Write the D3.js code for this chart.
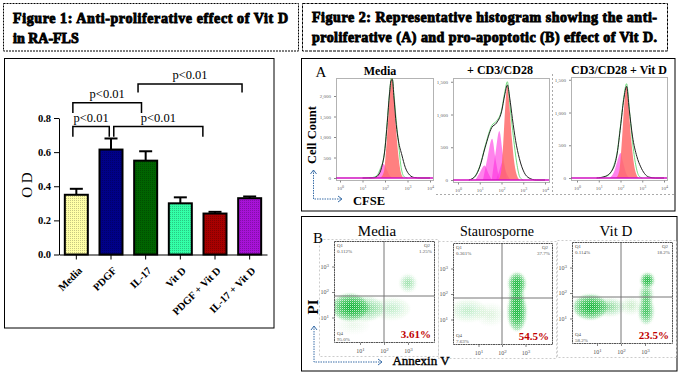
<!DOCTYPE html>
<html>
<head>
<meta charset="utf-8">
<script src="https://cdn.jsdelivr.net/npm/d3@7"></script>
<style>
  html, body { margin: 0; padding: 0; background: #fff; }
  svg { display: block; }
  text { font-family: "Liberation Serif", serif; fill: #000; }
</style>
</head>
<body>
<div id="chart"></div>
<script>
// Figure 1 bars
const categories = ["Media", "PDGF", "IL-17", "Vit D", "PDGF + Vit D", "IL-17 + Vit D"];
const odValues = [0.35, 0.615, 0.55, 0.30, 0.24, 0.33];
const odErrors = [0.035, 0.065, 0.055, 0.035, 0.01, 0.01];
const barColors = ["#ffffa6", "#000088", "#006400", "#33ffa8", "#a80000", "#a812d8"];
const odTicks = [0, 0.2, 0.4, 0.6, 0.8];

// significance brackets, in category index / OD units
const sigLabels = ["p<0.01", "p<0.01", "p<0.01", "p<0.01"];
const sigFrom = [1.78, -0.1, -0.1, 1.08];
const sigTo = [4.78, 1.88, 0.95, 3.65];
const sigLevel = [1.0, 0.89, 0.75, 0.75];
const sigDrop = [0.95, 0.83, 0.69, 0.69];

// Figure 2A histograms: [log10 CFSE, cell count]
const histTitles = ["Media", "+ CD3/CD28", "CD3/CD28 + Vit D"];
const histBlack = [
  [[1.0,0],[1.5,5],[1.7,70],[1.85,260],[2.0,720],[2.1,1350],[2.2,2050],[2.27,2380],[2.33,2400],[2.4,1950],[2.5,1300],[2.6,900],[2.75,560],[2.9,260],[3.1,70],[3.3,12],[3.6,0],[4.0,0]],
  [[0.5,0],[0.8,60],[1.0,200],[1.25,500],[1.55,800],[1.77,870],[2.0,1040],[2.15,1300],[2.27,1450],[2.38,1250],[2.5,940],[2.65,600],[2.82,330],[3.05,110],[3.27,30],[3.6,0],[4.0,0]],
  [[0.9,0],[1.3,25],[1.67,150],[1.85,380],[2.0,780],[2.15,1200],[2.28,1400],[2.4,1050],[2.55,640],[2.75,330],[2.93,170],[3.1,70],[3.3,15],[3.6,0],[4.0,0]]
];
const histGreen = [
  [[1.3,0],[1.6,40],[1.8,240],[1.95,520],[2.1,1380],[2.2,2080],[2.3,2500],[2.4,2020],[2.5,1400],[2.6,850],[2.7,320],[2.85,30],[3.0,0]],
  [[0.6,0],[0.8,70],[1.0,210],[1.25,520],[1.55,830],[1.77,900],[2.0,1060],[2.15,1340],[2.27,1500],[2.4,1100],[2.55,650],[2.7,260],[2.85,40],[3.0,0]],
  [[1.0,0],[1.4,35],[1.67,170],[1.85,400],[2.0,800],[2.15,1230],[2.28,1440],[2.42,1000],[2.55,560],[2.7,200],[2.85,30],[3.0,0]]
];
const histRed = [
  [[1.8,0],[1.95,150],[2.05,700],[2.15,1500],[2.25,2300],[2.3,2450],[2.35,2300],[2.45,1500],[2.55,800],[2.65,300],[2.75,60],[2.85,0]],
  [[1.85,0],[1.98,120],[2.08,560],[2.18,1150],[2.27,1440],[2.36,1150],[2.48,620],[2.6,240],[2.72,60],[2.85,0]],
  [[1.8,0],[1.95,120],[2.05,500],[2.17,1100],[2.28,1400],[2.38,1050],[2.5,560],[2.62,210],[2.75,40],[2.85,0]]
];
const histMagenta = [
  [ [[1.55,0],[1.7,80],[1.8,200],[1.9,350],[2.0,300],[2.1,180],[2.2,70],[2.35,0]] ],
  [ [[0.8,0],[1.0,110],[1.22,220],[1.4,100],[1.55,0]],
    [[1.15,0],[1.35,330],[1.57,630],[1.72,330],[1.9,0]],
    [[1.55,0],[1.72,400],[1.9,750],[2.05,420],[2.25,0]],
    [[1.75,0],[1.9,140],[2.05,270],[2.2,130],[2.4,0]] ],
  [ [[1.5,0],[1.7,90],[1.85,250],[2.0,380],[2.12,240],[2.25,80],[2.4,0]] ]
];
const histYMax = [2500, 1550, 1530];
const histTicks = [[0, 500, 1000, 1500, 2000], [0, 500, 1000, 1500], [0, 500, 1000, 1500]];
const decades = [0, 1, 2, 3, 4];

// Figure 2B dot plots: clouds as [log x, log y, x radius, y radius, strength]
const dotTitles = ["Media", "Staurosporne", "Vit D"];
const dotPercents = ["3.61%", "54.5%", "23.5%"];
const gateQ1 = ["0.112%", "0.361%", "0.114%"];
const gateQ2 = ["1.25%", "37.7%", "18.2%"];
const gateQ4 = ["95.0%", "7.63%", "58.2%"];
const dotClouds = [
  [[0.58,1.4,0.85,0.6,1],[1.2,1.35,0.9,0.55,0.4],[2.3,1.35,0.9,0.5,0.16],[3.0,2.35,0.4,0.4,0.28],[0.7,0.7,0.8,0.4,0.06]],
  [[2.64,2.4,0.42,0.5,1],[2.64,1.3,0.45,0.85,1],[2.62,1.9,0.38,0.5,0.6],[0.55,1.35,0.9,0.5,0.16],[1.5,1.2,0.7,0.5,0.08]],
  [[0.72,1.45,0.8,0.55,1],[1.5,1.45,0.75,0.4,0.32],[3.1,2.5,0.32,0.32,1],[3.05,1.9,0.32,0.55,0.5],[3.05,1.3,0.36,0.6,0.7],[2.4,1.5,0.5,0.4,0.14]]
];
const ringSizes = [0.85, 0.62, 0.42, 0.24];

const width = 678, height = 372;
const svg = d3.select("#chart").append("svg")
  .attr("width", width)
  .attr("height", height);

const defs = svg.append("defs");

// dither on the bars
const dither = defs.append("pattern")
  .attr("id", "dither").attr("width", 2).attr("height", 2)
  .attr("patternUnits", "userSpaceOnUse");
dither.append("rect").attr("width", 1).attr("height", 1).attr("fill", "#000").attr("opacity", 0.22);

// white holes over the green clouds
const grain = defs.append("pattern")
  .attr("id", "grain").attr("width", 2).attr("height", 2)
  .attr("patternUnits", "userSpaceOnUse");
grain.append("rect").attr("width", 1).attr("height", 1).attr("fill", "#fff").attr("opacity", 0.7);
grain.append("rect").attr("x", 1).attr("y", 1).attr("width", 1).attr("height", 1).attr("fill", "#fff").attr("opacity", 0.15);

defs.append("filter").attr("id", "soft")
  .append("feGaussianBlur").attr("stdDeviation", 1.2);

function box(x0, y0, x1, y1, dash, color, sw) {
  svg.append("rect")
    .attr("x", x0).attr("y", y0)
    .attr("width", x1 - x0).attr("height", y1 - y0)
    .attr("fill", "none")
    .attr("stroke", color || "#000")
    .attr("stroke-width", sw || 1)
    .attr("stroke-dasharray", dash || null);
}

function label(x, y, str, size, opts) {
  opts = opts || {};
  const t = svg.append("text")
    .attr("x", x).attr("y", y)
    .attr("text-anchor", opts.anchor || "middle")
    .style("font-size", size + "px")
    .style("font-weight", opts.bold ? "bold" : "normal")
    .style("fill", opts.color || "#000")
    .text(str);
  if (opts.heavy) t.style("stroke", "#000").style("stroke-width", opts.heavy);
  if (opts.rotate) t.attr("transform", `rotate(${opts.rotate},${x},${y})`);
  return t;
}

// --- title boxes ---
box(3.5, 3.5, 298.5, 51, "2,1");
box(302.5, 3.5, 667.5, 51, "3,1");
label(13, 23, "Figure 1: Anti-proliferative effect of Vit D", 14, { anchor: "start", bold: true, heavy: 0.9 }).attr("textLength", 275);
label(13, 43, "in RA-FLS", 14, { anchor: "start", bold: true, heavy: 0.9 });
label(312, 22, "Figure 2: Representative histogram showing the anti-", 14, { anchor: "start", bold: true, heavy: 0.9 }).attr("textLength", 345);
label(312, 42, "proliferative (A) and pro-apoptotic (B) effect of Vit D.", 14, { anchor: "start", bold: true, heavy: 0.9 }).attr("textLength", 345);

// --- Figure 1 ---
box(4.5, 58.5, 274, 328);
box(301.5, 58.5, 675, 211);
box(301.5, 216.5, 677, 371);

const x = d3.scaleBand().domain(categories).range([59, 267]);
const xIdx = d3.scaleLinear().domain([0, 5]).range([x(categories[0]) + x.bandwidth() / 2, x(categories[5]) + x.bandwidth() / 2]);
const y = d3.scaleLinear().domain([0, 0.8]).range([254.5, 118]);
const barW = 23;

const gx = svg.append("g")
  .attr("transform", "translate(0,254.5)")
  .call(d3.axisBottom(x).tickSize(5).tickSizeOuter(0));
gx.selectAll("path,line").attr("stroke", "#000").attr("stroke-width", 1);
gx.selectAll("text")
  .attr("transform", "rotate(-45)")
  .attr("dx", "-0.7em").attr("dy", "0.8em")
  .style("text-anchor", "end")
  .style("font-size", "10.5px")
  .style("font-weight", "bold");

const gy = svg.append("g")
  .attr("transform", "translate(59,0)")
  .call(d3.axisLeft(y).tickValues(odTicks).tickFormat(d3.format(".1f")).tickSize(5).tickSizeOuter(0));
gy.selectAll("path,line").attr("stroke", "#000").attr("stroke-width", 1);
gy.selectAll("text").style("font-size", "10.5px").style("font-weight", "bold");

label(32, 185, "O D", 15, { rotate: -90 });

const bars = categories.map((c, i) => ({ c, v: odValues[i], e: odErrors[i], col: barColors[i] }));
const cx = d => x(d.c) + x.bandwidth() / 2;

svg.selectAll("line.err").data(bars).enter().append("line")
  .attr("class", "err")
  .attr("x1", cx).attr("x2", cx)
  .attr("y1", d => y(d.v)).attr("y2", d => y(d.v + d.e))
  .attr("stroke", "#000").attr("stroke-width", 2);
svg.selectAll("line.cap").data(bars).enter().append("line")
  .attr("class", "cap")
  .attr("x1", d => cx(d) - 6.5).attr("x2", d => cx(d) + 6.5)
  .attr("y1", d => y(d.v + d.e)).attr("y2", d => y(d.v + d.e))
  .attr("stroke", "#000").attr("stroke-width", 2);

svg.selectAll("rect.bar").data(bars).enter().append("rect")
  .attr("class", "bar")
  .attr("x", d => cx(d) - barW / 2)
  .attr("y", d => y(d.v))
  .attr("width", barW)
  .attr("height", d => y(0) - y(d.v))
  .attr("fill", d => d.col)
  .attr("stroke", "#000").attr("stroke-width", 2);
svg.selectAll("rect.dith").data(bars).enter().append("rect")
  .attr("class", "dith")
  .attr("x", d => cx(d) - barW / 2 + 1)
  .attr("y", d => y(d.v) + 1)
  .attr("width", barW - 2)
  .attr("height", d => y(0) - y(d.v) - 2)
  .attr("fill", "url(#dither)");

sigLabels.forEach((s, i) => {
  const a = xIdx(sigFrom[i]), b = xIdx(sigTo[i]);
  svg.append("path")
    .attr("d", d3.line()([[a, y(sigDrop[i])], [a, y(sigLevel[i])], [b, y(sigLevel[i])], [b, y(sigDrop[i])]]))
    .attr("fill", "none").attr("stroke", "#000").attr("stroke-width", 1.5);
  label((a + b) / 2, y(sigLevel[i]) - 4.5, s, 12.5);
});

// --- Figure 2A ---
// plot frame and the place of 10^0 .. 10^4 on screen
const histFrames = [[336, 433, 340, 430, 78, 178], [453, 549, 458, 545, 78, 180], [571, 667, 577, 664, 77, 178]];

function superTicks(g, size) {
  g.selectAll("text").each(function(d) {
    const t = d3.select(this).text("10");
    t.append("tspan").attr("dy", "-0.4em").style("font-size", (size - 1) + "px").text(d);
  });
}

svg.append("line").attr("x1", 436).attr("x2", 675).attr("y1", 194.5).attr("y2", 194.5)
  .attr("stroke", "#aaa").attr("stroke-dasharray", "2,2");
svg.append("line").attr("x1", 552.5).attr("x2", 552.5).attr("y1", 74).attr("y2", 194)
  .attr("stroke", "#aaa").attr("stroke-dasharray", "2,2");

histTitles.forEach((title, i) => {
  const f = histFrames[i];
  const hx = d3.scaleLinear().domain([0, 4]).range([f[2], f[3]]);
  const hy = d3.scaleLinear().domain([0, histYMax[i]])
    .range([f[5], i === 0 ? 178 - histYMax[i] * 0.041 : f[5] - histYMax[i] * 0.0655]);

  const clipId = "hclip" + i;
  defs.append("clipPath").attr("id", clipId).append("rect")
    .attr("x", f[0]).attr("y", f[4]).attr("width", f[1] - f[0]).attr("height", f[5] - f[4] + 2);

  const plot = svg.append("g").attr("clip-path", `url(#${clipId})`);
  const area = d3.area().x(d => hx(d[0])).y0(hy(0)).y1(d => hy(d[1])).curve(d3.curveMonotoneX);
  const line = d3.line().x(d => hx(d[0])).y(d => hy(d[1])).curve(d3.curveMonotoneX);

  histMagenta[i].forEach(m => {
    plot.append("path").attr("d", area(m)).attr("fill", "#ff30e0").attr("fill-opacity", 0.6);
  });
  plot.append("path").attr("d", area(histRed[i])).attr("fill", "#ff6a6a").attr("fill-opacity", 0.85);
  plot.append("path").attr("d", line(histGreen[i])).attr("fill", "none").attr("stroke", "#50d060").attr("stroke-width", 0.8);
  plot.append("path").attr("d", line(histBlack[i])).attr("fill", "none").attr("stroke", "#222").attr("stroke-width", 1);
  plot.append("line").attr("x1", f[0]).attr("x2", f[1]).attr("y1", hy(0)).attr("y2", hy(0))
    .attr("stroke", "#d010c0").attr("stroke-width", 1.5);

  box(f[0] + 0.5, f[4] + 0.5, f[1] + 0.5, f[5] + 2.5, "1,1", "#666");

  const ax = svg.append("g").attr("transform", `translate(0,${f[5] + 2.5})`)
    .call(d3.axisBottom(hx).tickValues(decades).tickSize(2).tickSizeOuter(0));
  ax.select(".domain").remove();
  ax.selectAll("line").attr("stroke", "#888");
  ax.selectAll("text").style("font-size", "5px").style("fill", "#666").attr("dy", "0.9em");
  superTicks(ax, 5);

  const ay = svg.append("g").attr("transform", `translate(${f[0]},0)`)
    .call(d3.axisLeft(hy).tickValues(histTicks[i]).tickSize(2).tickSizeOuter(0));
  ay.select(".domain").remove();
  ay.selectAll("line").attr("stroke", "#888");
  ay.selectAll("text").style("font-size", "5px").style("fill", "#666");
});

label(380, 75, histTitles[0], 12, { bold: true });
label(500, 74, histTitles[1], 12, { bold: true });
label(619, 74, histTitles[2], 12, { bold: true });
label(321, 77, "A", 15);
label(316, 135, "Cell Count", 12.5, { bold: true, rotate: -90 });
label(369, 205, "CFSE", 12.5, { bold: true });

function arrows(ox, oy, tx, ty) {
  const blue = "#3a6ea8";
  svg.append("path")
    .attr("d", d3.line()([[ox, ty], [ox, oy], [tx, oy]]))
    .attr("fill", "none").attr("stroke", blue).attr("stroke-width", 1).attr("stroke-dasharray", "1.5,1");
  svg.append("path")
    .attr("d", d3.line()([[ox - 3, ty + 4], [ox, ty], [ox + 3, ty + 4]]))
    .attr("fill", "none").attr("stroke", blue);
  svg.append("path")
    .attr("d", d3.line()([[tx - 4, oy - 3], [tx, oy], [tx - 4, oy + 3]]))
    .attr("fill", "none").attr("stroke", blue);
}
arrows(313.5, 199, 342, 170);

// --- Figure 2B ---
// plot frame, 10^0 x, x decade, 10^0 y, y decade
const dotFrames = [
  [334, 434, 241, 342, 336, 24, 343, 25.5],
  [453, 552, 243, 344, 455, 23.5, 345, 25.5],
  [572, 672, 242, 343, 573, 24, 344, 25.5]
];

dotTitles.forEach((title, i) => {
  const f = dotFrames[i];
  const dx = d3.scaleLinear().domain([0, 1]).range([f[4], f[4] + f[5]]);
  const dy = d3.scaleLinear().domain([0, 1]).range([f[6], f[6] - f[7]]);

  const clipId = "dclip" + i;
  defs.append("clipPath").attr("id", clipId).append("rect")
    .attr("x", f[0]).attr("y", f[2]).attr("width", f[1] - f[0]).attr("height", f[3] - f[2]);
  const plot = svg.append("g").attr("clip-path", `url(#${clipId})`);

  const blobs = plot.append("g").attr("filter", "url(#soft)");
  dotClouds[i].forEach(c => {
    ringSizes.forEach(r => {
      blobs.append("ellipse")
        .attr("cx", dx(c[0]))
        .attr("cy", dy(c[1]))
        .attr("rx", (dx(c[2]) - dx(0)) * r)
        .attr("ry", (dy(0) - dy(c[3])) * r)
        .attr("fill", "#00b028")
        .attr("fill-opacity", c[4] * 0.42);
    });
  });
  plot.append("rect")
    .attr("x", f[0]).attr("y", f[2]).attr("width", f[1] - f[0]).attr("height", f[3] - f[2])
    .attr("fill", "url(#grain)");

  // quadrant lines sit at 10^2
  plot.append("line").attr("x1", dx(2)).attr("x2", dx(2)).attr("y1", f[2]).attr("y2", f[3]).attr("stroke", "#777");
  plot.append("line").attr("x1", f[0]).attr("x2", f[1]).attr("y1", dy(2) + 4).attr("y2", dy(2) + 4).attr("stroke", "#777");

  box(f[0] + 0.5, f[2] + 0.5, f[1] + 0.5, f[3] + 0.5, "2,0.5", "#555");
  box(f[0] - 14.5, f[2] - 1.5, f[1] + 4.5, f[3] + 14.5, "2,2", "#ccc");

  const ax = svg.append("g").attr("transform", `translate(0,${f[3] + 1})`)
    .call(d3.axisBottom(dx).tickValues([1, 2, 3]).tickSize(2).tickSizeOuter(0));
  ax.select(".domain").remove();
  ax.selectAll("line").attr("stroke", "#888");
  ax.selectAll("text").style("font-size", "6px").style("fill", "#555").attr("dy", "0.9em");
  superTicks(ax, 6);

  const ay = svg.append("g").attr("transform", `translate(${f[0]},0)`)
    .call(d3.axisLeft(dy).tickValues([1, 2, 3]).tickSize(2).tickSizeOuter(0));
  ay.select(".domain").remove();
  ay.selectAll("line").attr("stroke", "#888");
  ay.selectAll("text").style("font-size", "6px").style("fill", "#555");
  superTicks(ay, 6);

  label(f[0] + 3, f[2] + 6, "Q1", 5, { anchor: "start", color: "#555" });
  label(f[0] + 3, f[2] + 12, gateQ1[i], 5, { anchor: "start", color: "#555" });
  label(f[1] - 10, f[2] + 6, "Q2", 5, { anchor: "start", color: "#555" });
  label(f[1] - 2, f[2] + 12, gateQ2[i], 5, { anchor: "end", color: "#555" });
  label(f[0] + 3, f[3] - 7, "Q4", 5, { anchor: "start", color: "#555" });
  label(f[0] + 3, f[3] - 1.5, gateQ4[i], 5, { anchor: "start", color: "#555" });

  label(f[1] - 3, f[3] - 4, dotPercents[i], 11, { anchor: "end", bold: true, color: "#c00000" });
});

label(377, 236, dotTitles[0], 15);
label(497, 236, dotTitles[1], 14);
label(616, 236, dotTitles[2], 15);
label(318, 243, "B", 15);
label(318, 307, "PI", 15, { bold: true, rotate: -90 });
label(421, 365, "Annexin V", 13, { heavy: 0.4 });
arrows(314, 362, 382, 326);
</script>
</body>
</html>
